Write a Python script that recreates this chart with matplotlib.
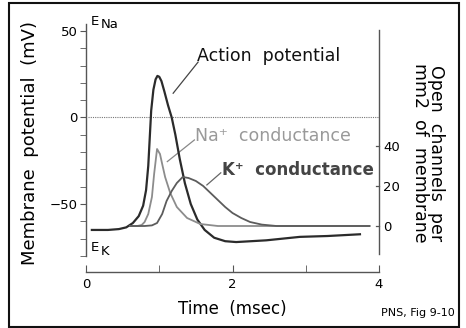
import matplotlib
matplotlib.use("Agg")
import matplotlib.pyplot as plt
from matplotlib.patches import Rectangle

plt.rcParams['font.family'] = ['DejaVu Sans']

# action potential (time in msec, membrane potential in mV)
ap_t = [0.08, 0.30, 0.45, 0.55, 0.64, 0.72, 0.78, 0.82, 0.85, 0.87, 0.89, 0.92,
        0.95, 0.975, 1.00, 1.03, 1.07, 1.12, 1.17, 1.22, 1.28, 1.35, 1.43, 1.52,
        1.62, 1.75, 1.90, 2.05, 2.46, 2.92, 3.30, 3.74]
ap_v = [-65, -65, -64.5, -63.5, -61, -57, -51, -42, -28, -12, 4, 16,
        22, 24, 23.5, 21, 15, 7, 0, -10, -24, -38, -50, -59,
        -65, -69.5, -71.5, -72, -71, -69, -68.5, -67.5]

# Na+ conductance (open channels per mm2)
na_t = [0.60, 0.70, 0.76, 0.80, 0.85, 0.90, 0.93, 0.97, 1.01, 1.04, 1.08,
        1.15, 1.24, 1.38, 1.56, 1.80, 3.87]
na_g = [0, 0, 0.5, 2, 6, 14.5, 26, 38.5, 36, 31, 24.5,
        16.5, 9.5, 4, 1, 0, 0]

# K+ conductance
k_t = [0.60, 0.80, 0.90, 0.97, 1.04, 1.10, 1.17, 1.24, 1.32, 1.40, 1.50, 1.60,
       1.70, 1.80, 1.90, 2.00, 2.12, 2.24, 2.40, 2.60, 3.87]
k_g = [0, 0, 0.3, 1.5, 6, 12.5, 17.5, 21.5, 24.5, 24, 22.5, 20,
       16.5, 13, 9.5, 6.5, 4, 2, 0.7, 0, 0]

fig = plt.figure(figsize=(4.66, 3.28), dpi=100)
ax = fig.add_axes([86 / 466, 56 / 328, 293 / 466, 248 / 328])
ax2 = ax.twinx()

ax.set_xlim(0, 4)
ax.set_ylim(-89.3, 54)
ax2.set_ylim(-23, 101)

ax.plot(ap_t, ap_v, color='#2b2b2b', lw=1.6, zorder=5)
ax2.plot(na_t, na_g, color='#8c8c8c', lw=1.3)
ax2.plot(k_t, k_g, color='#5c5c5c', lw=1.3)
ax.plot([0.03, 4], [0, 0], color='#777777', lw=0.8, ls=(0, (1, 1)))

for a in (ax, ax2):
    a.patch.set_visible(False)
    a.spines['top'].set_visible(False)
    for s in a.spines.values():
        s.set_color('#555555')
        s.set_linewidth(1.0)
ax.spines['right'].set_visible(False)
ax2.spines['left'].set_visible(False)
ax2.spines['bottom'].set_visible(False)

ax.spines['left'].set_bounds(-80, 54)
ax.spines['bottom'].set_bounds(0, 4)
ax2.spines['right'].set_bounds(-14, 98)

ax.set_yticks([50, 0, -50])
ax.set_yticklabels(['50', '0', '\u221250'])
ax.set_yticks(range(-80, 51, 10), minor=True)
ax.set_xticks([0, 2, 4])
ax.set_xticks([1, 3], minor=True)
ax.tick_params(axis='y', which='both', direction='out', length=4, color='#555555',
               labelsize=9.5, pad=2)
ax.tick_params(axis='x', which='both', direction='in', length=5, color='#555555',
               labelsize=9.5, pad=4)
ax2.set_yticks([0, 20, 40])
ax2.tick_params(axis='y', direction='out', length=0, labelsize=9.5, pad=3)
for g in [0, 20, 40]:
    ax2.plot([3.96, 4.0], [g, g], color='#555555', lw=0.9, clip_on=False)

ax.set_xlabel('Time  (msec)', fontsize=12, labelpad=7)
fig.text(30 / 466, 1 - 143 / 328, 'Membrane  potential  (mV)', rotation=90,
         fontsize=13, ha='center', va='center')
fig.text(428 / 466, 1 - 153 / 328, 'Open  channels  per\nmm2  of  membrane',
         rotation=-90, fontsize=12.5, ha='center', va='center', linespacing=0.9)

# curve labels with leader lines
ax.text(1.52, 35.5, 'Action  potential', fontsize=12.5, va='center', color='#111111')
ax.plot([1.19, 1.53], [14, 32], color='#444444', lw=0.9)
ax.text(1.49, -10.5, 'Na\u207a  conductance', fontsize=12.5, va='center', color='#999999')
ax.plot([1.11, 1.48], [-25.5, -13], color='#888888', lw=0.9)
ax.text(1.86, -30.5, 'K\u207a  conductance', fontsize=12, va='center',
        color='#444444', fontweight='bold')
ax.plot([1.65, 1.84], [-39, -32], color='#666666', lw=0.9)

ax.text(0.07, 55.5, 'E', fontsize=9.5, va='center')
ax.text(0.20, 53.5, 'Na', fontsize=9.5, va='center')
ax.text(0.07, -75, 'E', fontsize=9.5, va='center')
ax.text(0.20, -77.5, 'K', fontsize=9.5, va='center')

fig.text(455 / 466, 1 - 313 / 328, 'PNS, Fig 9-10', fontsize=8, ha='right', va='center')

fig.patches.append(Rectangle((9 / 466, 1 / 328), 450 / 466, 324 / 328,
                             transform=fig.transFigure, fill=False,
                             edgecolor='#111111', lw=1.5))

fig.savefig('out.png', dpi=100)
